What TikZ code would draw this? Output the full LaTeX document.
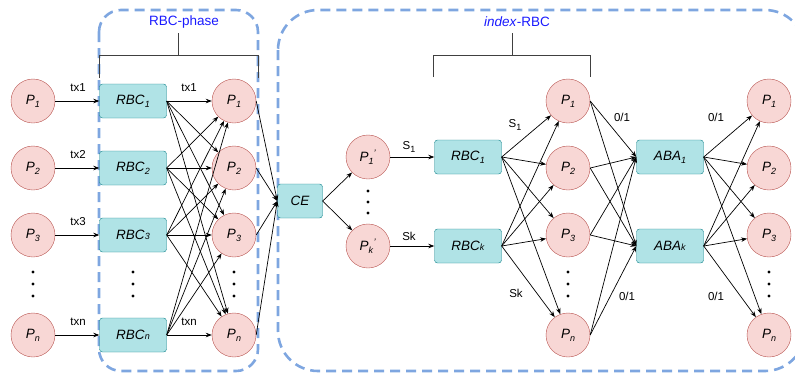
\documentclass[tikz,border=0pt]{standalone}
\usepackage{fontspec}
\setmainfont{Liberation Sans}
\usetikzlibrary{arrows.meta}
\definecolor{pfill}{HTML}{F8D7D5}
\definecolor{pline}{HTML}{B85450}
\definecolor{bfill}{HTML}{B0E3E6}
\definecolor{bline}{HTML}{0E8088}
\definecolor{grpline}{HTML}{7EA6E0}
\definecolor{grptext}{HTML}{1A1AFF}
\newcommand{\psub}[2]{\textit{#1}\raisebox{-0.4ex}{\small\textit{#2}}}
\newcommand{\psml}[2]{\textit{#1}{\small\textit{#2}}}
\tikzset{
  party/.style={circle,draw=pline,fill=pfill,minimum size=44pt,inner sep=0pt,font=\fontsize{13.5}{16}\selectfont},
  proto/.style={rectangle,rounded corners=3pt,draw=bline,fill=bfill,minimum width=67pt,minimum height=34pt,inner sep=0pt,font=\fontsize{13.5}{16}\selectfont},
  arr/.style={-{Stealth[length=6pt,width=4.5pt]},line width=0.7pt},
  lbl/.style={font=\fontsize{11.5}{13}\selectfont,inner sep=1pt,fill=white},
  grpbox/.style={draw=grpline,line width=2.6pt,dash pattern=on 10pt off 6pt},
  grplbl/.style={text=grptext,font=\fontsize{13.5}{16}\selectfont},
  brace/.style={draw=black!75,line width=1pt},
}
\begin{document}
\begin{tikzpicture}[x=1pt,y=-1pt]
\useasboundingbox (0,0) rectangle (795,373);
% groups
\draw[grpbox,rounded corners=22pt] (99,10) rectangle (258,371);
\draw[grpbox,rounded corners=40pt] (278,10) rectangle (805,371);
\draw[brace] (99,78) -- (99,55) -- (258,55) -- (258,78);
\draw[brace] (178,55) -- (178,33);
\node[grplbl] (phase) at (184,22) {RBC-phase};
\draw[brace] (433,77) -- (433,55) -- (590,55) -- (590,77);
\draw[brace] (512,55) -- (512,33);
\node[grplbl] (index) at (517,22) {\textit{index}-RBC};

% RBC-phase
\foreach \i/\y/\rbc in {1/101/{\psub{RBC}{1}},2/168/{\psub{RBC}{2}},3/235/{\psml{RBC}{3}},n/335/{\psml{RBC}{n}}} {
  \node[party] (a\i) at (33,\y) {\psub{P}{\i}};
  \node[proto] (r\i) at (133,\y) {\rbc};
  \node[party] (b\i) at (234,\y) {\psub{P}{\i}};
}
\foreach \i in {1,2,3,n} {
  \draw[arr] (a\i) -- (r\i);
  \foreach \j in {1,2,3,n}
    \draw[arr] (r\i.east) -- (b\j);
}
\node[lbl] (tx1) at (78,88) {tx1};
\node[lbl] (tx2) at (78,155) {tx2};
\node[lbl] (tx3) at (78,222) {tx3};
\node[lbl] (txn) at (78,322) {txn};
\node[lbl] (tx1b) at (189,88) {tx1};
\node[lbl] (txnb) at (189,322) {txn};

% index-RBC
\node[proto,minimum width=45pt] (ce) at (300,201) {\textit{CE}};
\foreach \j in {1,2,3,n}
  \draw[arr] (b\j.east) -- (ce.west);
\node[party] (q1) at (368,157) {\psub{P}{1}\textsuperscript{\textit{'}}};
\node[party] (qk) at (368,246) {\psub{P}{k}\textsuperscript{\textit{'}}};
\node[proto] (s1) at (468,157) {\psub{RBC}{1}};
\node[proto] (sk) at (468,246) {\psml{RBC}{k}};
\node[proto] (g1) at (670,157) {\psub{ABA}{1}};
\node[proto] (gk) at (670,246) {\psml{ABA}{k}};
\draw[arr] (ce.east) -- (q1);
\draw[arr] (ce.east) -- (qk);
\draw[arr] (q1) -- (s1);
\draw[arr] (qk) -- (sk);
\foreach \i/\y in {1/101,2/168,3/235,n/335} {
  \node[party] (c\i) at (568,\y) {\psub{P}{\i}};
  \node[party] (d\i) at (769,\y) {\psub{P}{\i}};
}
\foreach \j in {1,2,3,n} {
  \draw[arr] (s1.east) -- (c\j);
  \draw[arr] (sk.east) -- (c\j);
  \draw[arr] (c\j.east) -- (g1.west);
  \draw[arr] (c\j.east) -- (gk.west);
  \draw[arr] (g1.east) -- (d\j);
  \draw[arr] (gk.east) -- (d\j);
}
\node[lbl] (ls1) at (409,147) {S\raisebox{-0.4ex}{\small 1}};
\node[lbl] (lsk) at (409,236) {Sk};
\node[lbl] (ls1b) at (515,125) {S\raisebox{-0.4ex}{\small 1}};
\node[lbl] (lskb) at (516,293) {Sk};
\node[lbl] (v1) at (622,117) {0/1};
\node[lbl] (v2) at (627,296) {0/1};
\node[lbl] (v3) at (716,117) {0/1};
\node[lbl] (v4) at (716,296) {0/1};

% dots
\foreach \x in {33,133,234,568,769}
  \foreach \dy in {-12,0,12}
    \fill (\x,284+\dy) circle (1.7pt);
\foreach \dy in {-11,0,11}
  \fill (368,202+\dy) circle (1.7pt);
\end{tikzpicture}
\end{document}
